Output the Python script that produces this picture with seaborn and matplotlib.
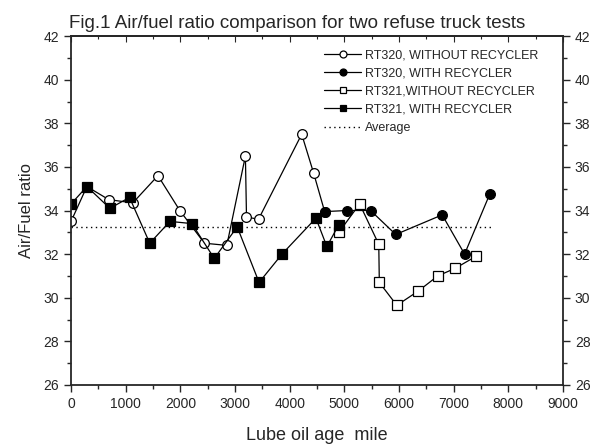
import numpy as np
import pandas as pd
import matplotlib
matplotlib.use("Agg")
import matplotlib.pyplot as plt
import seaborn as sns
from matplotlib.ticker import MultipleLocator

# RT320 without recycler
rt320_wo_x = [0, 290, 690, 1130, 1590, 1990, 2440, 2850, 3190, 3210, 3430, 4220, 4440, 4640]
rt320_wo_y = [33.5, 35.1, 34.5, 34.35, 35.6, 34.0, 32.5, 32.4, 36.5, 33.7, 33.6, 37.5, 35.7, 33.95]

# RT320 with recycler
rt320_w_x = [4640, 5050, 5480, 5940, 6790, 7200, 7660]
rt320_w_y = [33.95, 34.0, 34.0, 32.9, 33.8, 32.0, 34.75]

# RT321 without recycler
rt321_wo_x = [4900, 5280, 5630, 5640, 5960, 6350, 6710, 7030, 7410]
rt321_wo_y = [33.0, 34.3, 32.45, 30.7, 29.65, 30.3, 31.0, 31.35, 31.9]

# RT321 with recycler
rt321_w_x = [0, 290, 710, 1070, 1440, 1810, 2210, 2620, 3040, 3440, 3860, 4480, 4680, 4900]
rt321_w_y = [34.3, 35.1, 34.1, 34.6, 32.5, 33.5, 33.4, 31.8, 33.25, 30.7, 32.0, 33.65, 32.35, 33.35]

avg_x = [0, 7700]
avg_y = [33.25, 33.25]

sns.set_style("ticks")
plt.rcParams['font.family'] = ['Liberation Sans', 'DejaVu Sans']

fig = plt.figure(figsize=(5.97, 4.46), dpi=100)
ax = fig.add_axes([0.119, 0.137, 0.824, 0.782])

kw = dict(color='black', linewidth=0.9, markeredgewidth=0.9,
          markeredgecolor='black', sort=False, ax=ax)
sns.lineplot(x=rt320_wo_x, y=rt320_wo_y, marker='o', markersize=7, markerfacecolor='white',
             label='RT320, WITHOUT RECYCLER', **kw)
sns.lineplot(x=rt320_w_x, y=rt320_w_y, marker='o', markersize=7, markerfacecolor='black',
             label='RT320, WITH RECYCLER', **kw)
sns.lineplot(x=rt321_wo_x, y=rt321_wo_y, marker='s', markersize=6.5, markerfacecolor='white',
             label='RT321,WITHOUT RECYCLER', **kw)
sns.lineplot(x=rt321_w_x, y=rt321_w_y, marker='s', markersize=6.5, markerfacecolor='black',
             label='RT321, WITH RECYCLER', **kw)
sns.lineplot(x=avg_x, y=avg_y, color='black', linewidth=1.0, linestyle=(0, (1, 2.5)),
             label='Average', ax=ax)

ax.set_xlim(0, 9000)
ax.set_ylim(26, 42)
ax.xaxis.set_major_locator(MultipleLocator(1000))
ax.xaxis.set_minor_locator(MultipleLocator(500))
ax.yaxis.set_major_locator(MultipleLocator(2))
ax.yaxis.set_minor_locator(MultipleLocator(1))
ax.tick_params(which='both', direction='out', labelsize=10, width=1.0,
               right=True, labelright=True)
ax.tick_params(which='major', length=5)
ax.tick_params(which='minor', length=3)
for s in ax.spines.values():
    s.set_visible(True)
    s.set_linewidth(1.3)

# top axis: inward ticks, no labels
top = ax.secondary_xaxis('top')
top.xaxis.set_major_locator(MultipleLocator(1000))
top.xaxis.set_minor_locator(MultipleLocator(500))
top.tick_params(which='both', direction='in', labeltop=False, width=0.8)
top.tick_params(which='major', length=4)
top.tick_params(which='minor', length=2.5)
top.spines['top'].set_linewidth(1.3)

ax.set_xlabel('Lube oil age  mile', fontsize=13, labelpad=12)
ax.set_ylabel('Air/Fuel ratio', fontsize=12, labelpad=7)
fig.text(0.116, 0.937, 'Fig.1 Air/fuel ratio comparison for two refuse truck tests',
         fontsize=13.5, va='baseline')

leg = ax.legend(loc='upper left', bbox_to_anchor=(0.514, 0.963), frameon=False, fontsize=9,
                handlelength=3.0, handletextpad=0.25, labelspacing=0.5,
                borderaxespad=0, borderpad=0)
for h in leg.get_lines():
    h.set_markersize(5)

fig.savefig('out.png', dpi=100)
